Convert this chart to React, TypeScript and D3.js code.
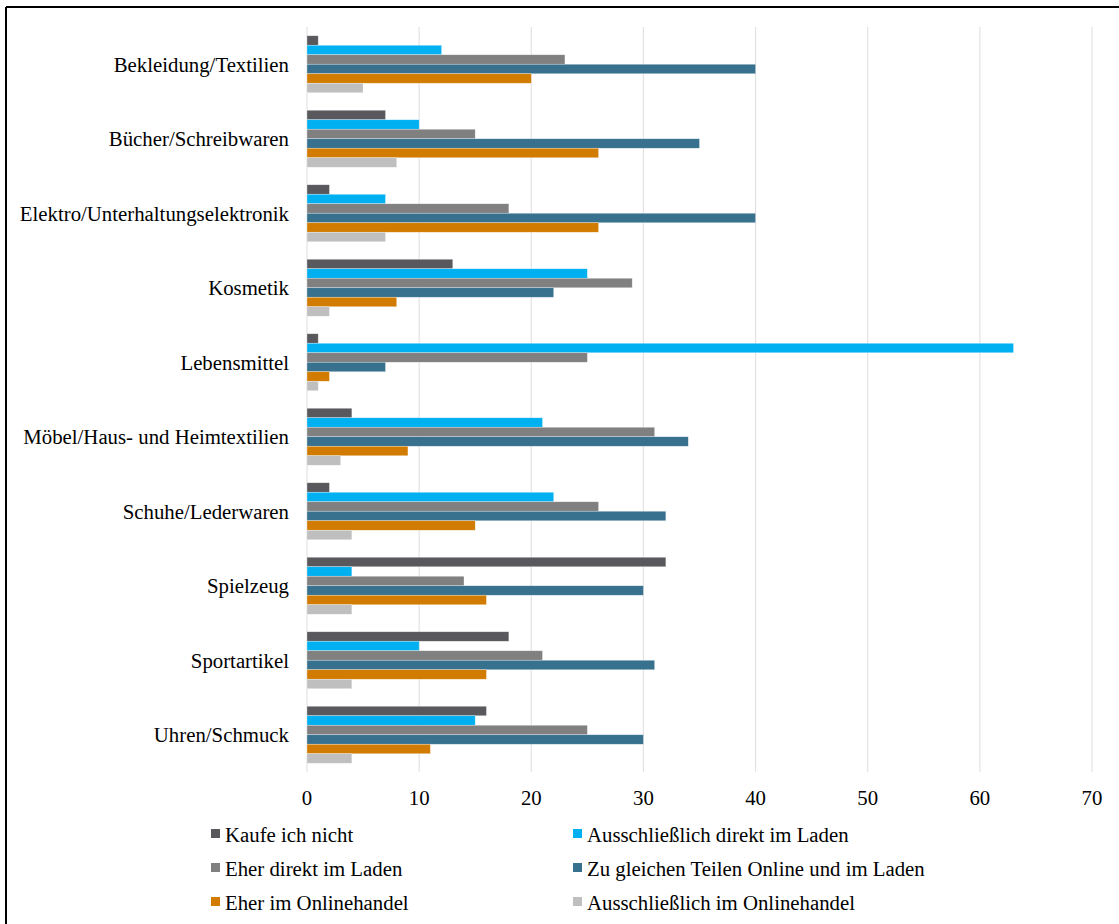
import React from "react";
import * as d3 from "d3";

const categories = [
  "Bekleidung/Textilien",
  "Bücher/Schreibwaren",
  "Elektro/Unterhaltungselektronik",
  "Kosmetik",
  "Lebensmittel",
  "Möbel/Haus- und Heimtextilien",
  "Schuhe/Lederwaren",
  "Spielzeug",
  "Sportartikel",
  "Uhren/Schmuck",
];

const seriesNames = [
  "Kaufe ich nicht",
  "Ausschließlich direkt im Laden",
  "Eher direkt im Laden",
  "Zu gleichen Teilen Online und im Laden",
  "Eher im Onlinehandel",
  "Ausschließlich im Onlinehandel",
];

const kaufeNicht = [1, 7, 2, 13, 1, 4, 2, 32, 18, 16];
const ausschlLaden = [12, 10, 7, 25, 63, 21, 22, 4, 10, 15];
const eherLaden = [23, 15, 18, 29, 25, 31, 26, 14, 21, 25];
const gleicheTeile = [40, 35, 40, 22, 7, 34, 32, 30, 31, 30];
const eherOnline = [20, 26, 26, 8, 2, 9, 15, 16, 16, 11];
const ausschlOnline = [5, 8, 7, 2, 1, 3, 4, 4, 4, 4];

const xTicks = [0, 10, 20, 30, 40, 50, 60, 70];

const seriesValues = [kaufeNicht, ausschlLaden, eherLaden, gleicheTeile, eherOnline, ausschlOnline];
const colors = ["#58585d", "#00b0f0", "#808080", "#37718e", "#d17c00", "#bfbfbf"];

export default function App() {
  const W = 1119;
  const H = 924;
  const left = 307;
  const right = 1092;
  const top = 27;
  const bottom = 772;
  const font = "'Liberation Serif', 'Times New Roman', serif";
  const fs = 20.8;

  const x = d3.scaleLinear().domain([0, 70]).range([left, right]);
  const y = d3.scaleBand<string>().domain(categories).range([top, bottom]).padding(0);
  const groupH = y.bandwidth() * 0.765;
  const inner = d3
    .scaleBand<number>()
    .domain(d3.range(seriesNames.length))
    .range([0, groupH])
    .padding(0);

  const legendCols = [211, 573];
  const legendRows = [834, 868, 902];

  return (
    <svg
      width={W}
      height={H}
      style={{ position: "absolute", left: 0, top: 0, background: "#fff" }}
      fontFamily={font}
    >
      <rect x={0} y={0} width={W} height={H} fill="#fff" />
      {/* frame */}
      <line x1={6} y1={7} x2={W} y2={7} stroke="#000" strokeWidth={2} />
      <line x1={6} y1={7} x2={6} y2={H} stroke="#000" strokeWidth={2} />

      {/* gridlines */}
      {xTicks.map((t) => (
        <line
          key={t}
          x1={x(t)}
          x2={x(t)}
          y1={top}
          y2={bottom}
          stroke="#e3e3e3"
          strokeWidth={1.2}
        />
      ))}

      {/* bars */}
      {categories.map((c, ci) => {
        const y0 = (y(c) as number) + (y.bandwidth() - groupH) / 2;
        return (
          <g key={c}>
            {seriesValues.map((vals, si) => (
              <rect
                key={si}
                x={x(0)}
                y={y0 + (inner(si) as number)}
                width={x(vals[ci]) - x(0)}
                height={inner.bandwidth()}
                fill={colors[si]}
                stroke="#ffffff"
                strokeOpacity={0.5}
                strokeWidth={0.6}
              />
            ))}
          </g>
        );
      })}

      {/* category labels */}
      {categories.map((c) => (
        <text
          key={c}
          x={289}
          y={(y(c) as number) + y.bandwidth() / 2}
          textAnchor="end"
          dominantBaseline="central"
          fontSize={fs}
          fill="#000"
        >
          {c}
        </text>
      ))}

      {/* x tick labels */}
      {xTicks.map((t) => (
        <text
          key={t}
          x={x(t)}
          y={797}
          textAnchor="middle"
          dominantBaseline="central"
          fontSize={fs}
          fill="#000"
        >
          {t}
        </text>
      ))}

      {/* legend */}
      {seriesNames.map((n, i) => {
        const lx = legendCols[i % 2];
        const ly = legendRows[Math.floor(i / 2)];
        return (
          <g key={n}>
            <rect x={lx} y={ly - 5} width={9} height={9} fill={colors[i]} />
            <text x={lx + 14} y={ly} dominantBaseline="central" fontSize={fs} fill="#000">
              {n}
            </text>
          </g>
        );
      })}
    </svg>
  );
}
